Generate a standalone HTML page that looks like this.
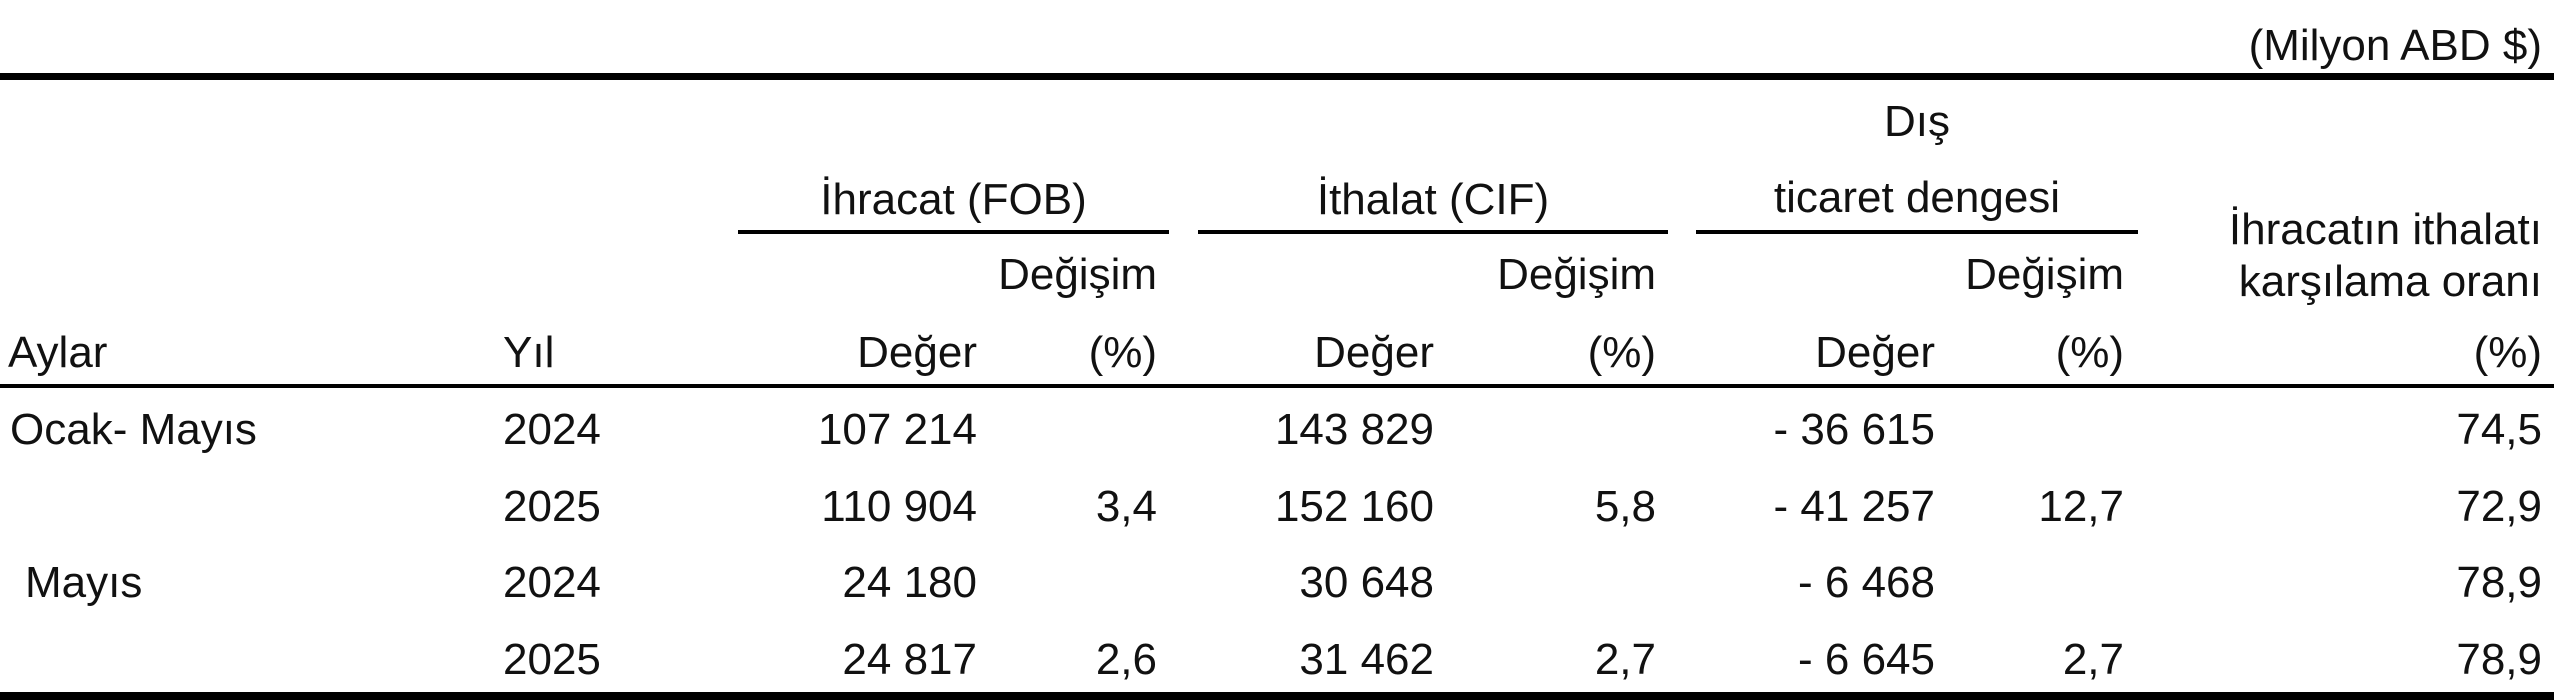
<!DOCTYPE html>
<html><head><meta charset="utf-8"><style>
body{margin:0;width:2554px;height:700px;background:#fff;position:relative;overflow:hidden;font-family:"Liberation Sans",Arial,sans-serif;font-size:44px;color:#111}
.t{position:absolute;line-height:44px;white-space:nowrap}
.r{text-align:right}
.c{text-align:center}
.l{position:absolute;background:#000}
</style></head><body>
<div class="t r" style="right:12px;top:24px">(Milyon ABD $)</div>
<div class="l" style="left:0;top:73px;width:2554px;height:7px"></div>

<div class="t c" style="left:1696px;width:442px;top:100px">Dış</div>
<div class="t c" style="left:738px;width:431px;top:178px">İhracat (FOB)</div>
<div class="t c" style="left:1198px;width:470px;top:178px">İthalat (CIF)</div>
<div class="t c" style="left:1696px;width:442px;top:176px">ticaret dengesi</div>
<div class="l" style="left:738px;top:230px;width:431px;height:4px"></div>
<div class="l" style="left:1198px;top:230px;width:470px;height:4px"></div>
<div class="l" style="left:1696px;top:230px;width:442px;height:4px"></div>
<div class="t r" style="right:12px;top:208px">İhracatın ithalatı</div>
<div class="t r" style="right:12px;top:260px">karşılama oranı</div>

<div class="t r" style="right:1397px;top:253px">Değişim</div>
<div class="t r" style="right:898px;top:253px">Değişim</div>
<div class="t r" style="right:430px;top:253px">Değişim</div>

<div class="t" style="left:8px;top:331px">Aylar</div>
<div class="t" style="left:503px;top:331px">Yıl</div>
<div class="t r" style="right:1577px;top:331px">Değer</div>
<div class="t r" style="right:1397px;top:331px">(%)</div>
<div class="t r" style="right:1120px;top:331px">Değer</div>
<div class="t r" style="right:898px;top:331px">(%)</div>
<div class="t r" style="right:619px;top:331px">Değer</div>
<div class="t r" style="right:430px;top:331px">(%)</div>
<div class="t r" style="right:12px;top:331px">(%)</div>
<div class="l" style="left:0;top:384px;width:2554px;height:4px"></div>

<!-- row 1 -->
<div class="t" style="left:10px;top:408px">Ocak- Mayıs</div>
<div class="t" style="left:503px;top:408px">2024</div>
<div class="t r" style="right:1577px;top:408px">107 214</div>
<div class="t r" style="right:1120px;top:408px">143 829</div>
<div class="t r" style="right:619px;top:408px">- 36 615</div>
<div class="t r" style="right:12px;top:408px">74,5</div>
<!-- row 2 -->
<div class="t" style="left:503px;top:485px">2025</div>
<div class="t r" style="right:1577px;top:485px">110 904</div>
<div class="t r" style="right:1397px;top:485px">3,4</div>
<div class="t r" style="right:1120px;top:485px">152 160</div>
<div class="t r" style="right:898px;top:485px">5,8</div>
<div class="t r" style="right:619px;top:485px">- 41 257</div>
<div class="t r" style="right:430px;top:485px">12,7</div>
<div class="t r" style="right:12px;top:485px">72,9</div>
<!-- row 3 -->
<div class="t" style="left:25px;top:561px">Mayıs</div>
<div class="t" style="left:503px;top:561px">2024</div>
<div class="t r" style="right:1577px;top:561px">24 180</div>
<div class="t r" style="right:1120px;top:561px">30 648</div>
<div class="t r" style="right:619px;top:561px">- 6 468</div>
<div class="t r" style="right:12px;top:561px">78,9</div>
<!-- row 4 -->
<div class="t" style="left:503px;top:638px">2025</div>
<div class="t r" style="right:1577px;top:638px">24 817</div>
<div class="t r" style="right:1397px;top:638px">2,6</div>
<div class="t r" style="right:1120px;top:638px">31 462</div>
<div class="t r" style="right:898px;top:638px">2,7</div>
<div class="t r" style="right:619px;top:638px">- 6 645</div>
<div class="t r" style="right:430px;top:638px">2,7</div>
<div class="t r" style="right:12px;top:638px">78,9</div>
<div class="l" style="left:0;top:692px;width:2554px;height:8px"></div>
</body></html>
